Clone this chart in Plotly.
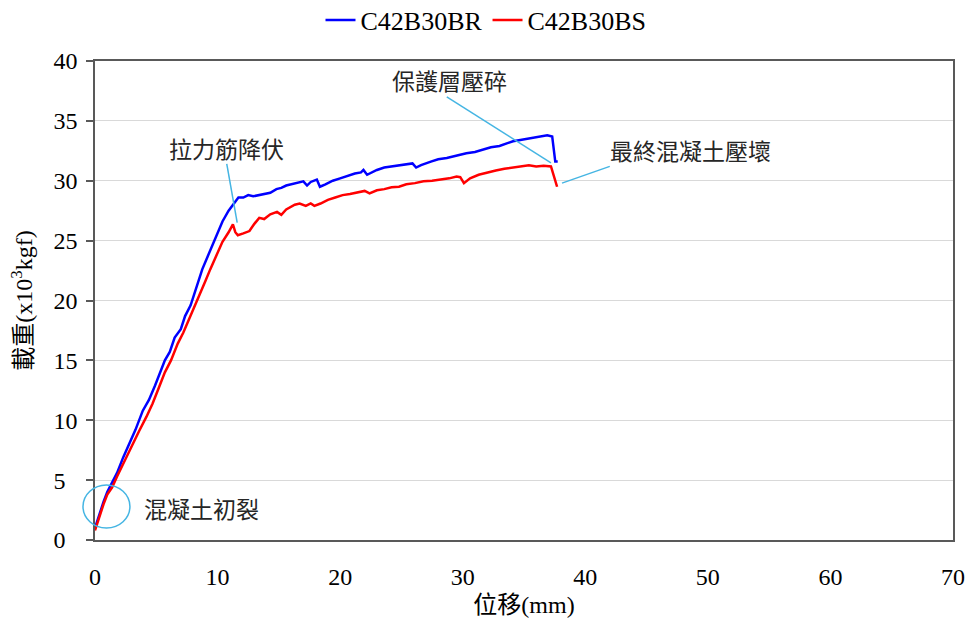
import plotly.graph_objects as go

# Load–displacement curves of two beams
br_disp = [0, 0.3, 0.7, 1.0, 1.4, 1.8, 2.3, 2.85, 3.3, 3.9, 4.4, 4.9, 5.3, 5.7, 6.1, 6.5,
           7.0, 7.35, 7.8, 8.15, 8.5, 8.75, 9.2, 9.6, 9.95, 10.4, 10.9, 11.3, 11.7, 12.1,
           12.5, 12.9, 13.3, 13.8, 14.3, 14.8, 15.2, 15.6, 16.0, 16.5, 17.0, 17.3, 17.6,
           18.1, 18.35, 18.8, 19.4, 20.0, 20.6, 21.2, 21.7, 21.9, 22.2, 23.0, 23.6, 24.2,
           24.9, 25.5, 25.9, 26.2, 26.6, 27.4, 28.0, 28.7, 29.5, 30.3, 31.0, 31.6, 32.3,
           33.0, 33.6, 34.1, 34.7, 35.3, 35.9, 36.5, 36.9, 37.3, 37.45, 37.55, 37.75]
br_load = [1.0, 2.0, 3.2, 4.0, 4.8, 5.6, 6.9, 8.1, 9.2, 10.8, 11.7, 12.9, 14.0, 15.0, 15.7,
           16.9, 17.6, 18.7, 19.6, 20.7, 21.8, 22.6, 23.7, 24.7, 25.6, 26.6, 27.5, 28.1,
           28.6, 28.6, 28.8, 28.7, 28.8, 28.9, 29.0, 29.3, 29.4, 29.6, 29.7, 29.8, 29.95,
           29.6, 29.9, 30.1, 29.5, 29.7, 30.0, 30.2, 30.4, 30.6, 30.7, 30.9, 30.5, 30.9,
           31.1, 31.2, 31.3, 31.4, 31.45, 31.1, 31.3, 31.6, 31.8, 31.9, 32.1, 32.3, 32.4,
           32.6, 32.8, 32.9, 33.1, 33.3, 33.4, 33.5, 33.6, 33.75, 33.8, 33.7, 32.6, 31.6,
           31.6]

bs_disp = [0, 0.3, 0.7, 1.0, 1.4, 1.8, 2.4, 3.1, 3.6, 4.2, 4.7, 5.2, 5.7, 6.2, 6.75, 7.2,
           7.7, 8.1, 8.5, 9.0, 9.4, 9.9, 10.4, 10.9, 11.25, 11.45, 11.65, 12.1, 12.6, 13.0,
           13.4, 13.8, 14.3, 14.85, 15.2, 15.6, 15.9, 16.3, 16.7, 17.2, 17.6, 17.9, 18.4,
           19.0, 19.6, 20.2, 20.8, 21.4, 22.0, 22.4, 23.0, 23.6, 24.2, 24.8, 25.4, 26.1,
           26.8, 27.5, 28.2, 28.9, 29.5, 29.8, 30.1, 30.6, 31.3, 32.0, 32.7, 33.4, 34.1,
           34.8, 35.4, 36.0, 36.6, 37.2, 37.45, 37.7]
bs_load = [0.8, 1.8, 3.0, 3.8, 4.4, 5.3, 6.6, 8.1, 9.1, 10.3, 11.4, 12.7, 14.0, 15.0, 16.4,
           17.3, 18.5, 19.3, 20.4, 21.6, 22.6, 23.8, 24.9, 25.7, 26.35, 25.7, 25.45, 25.6,
           25.8, 26.4, 26.9, 26.8, 27.2, 27.4, 27.15, 27.6, 27.8, 28.0, 28.1, 27.9, 28.1,
           27.9, 28.1, 28.4, 28.6, 28.8, 28.9, 29.0, 29.15, 28.95, 29.2, 29.3, 29.45, 29.5,
           29.7, 29.8, 29.95, 30.0, 30.1, 30.2, 30.35, 30.3, 29.8, 30.2, 30.5, 30.7, 30.85,
           31.0, 31.1, 31.2, 31.3, 31.2, 31.25, 31.2, 30.4, 29.5]

series_names = ["C42B30BR", "C42B30BS"]
series_colors = ["#0000ff", "#ff0000"]

x_ticks = [0, 10, 20, 30, 40, 50, 60, 70]
y_ticks = [0, 5, 10, 15, 20, 25, 30, 35, 40]
y_tick_labels = ["0\u2007", "5\u2007", "10", "15", "20", "25", "30", "35", "40"]
X_RANGE = [0, 70]
Y_RANGE = [0, 40]

# Event callouts: label, text position, leader line start/end (data units)
callout_text = ["拉力筋降伏", "保護層壓碎", "最終混凝土壓壞", "混凝土初裂"]
callout_pos = [(10.7, 32.75), (28.9, 38.4), (48.6, 32.6), (8.65, 2.65)]
leader_lines = [((10.75, 31.4), (11.6, 26.5)),
                ((28.7, 37.0), (37.2, 31.5)),
                ((42.0, 31.2), (38.1, 29.8))]
crack_ring = ((-0.98, 1.0), (2.85, 4.6))

SERIF = '"Liberation Serif", "Noto Sans CJK TC", serif'
CJK = '"Noto Sans CJK TC", sans-serif'
CALLOUT_COLOR = "#45b5e3"
AXIS_COLOR = "#595959"

fig = go.Figure()
for name, color, xs, ys in zip(series_names, series_colors,
                               [br_disp, bs_disp], [br_load, bs_load]):
    fig.add_trace(go.Scatter(x=xs, y=ys, mode="lines", name=name,
                             line=dict(color=color, width=2.5)))

def to_paper_x(v):
    return (v - X_RANGE[0]) / (X_RANGE[1] - X_RANGE[0])

def to_paper_y(v):
    return (v - Y_RANGE[0]) / (Y_RANGE[1] - Y_RANGE[0])

shapes = []
for (x0, y0), (x1, y1) in leader_lines:
    shapes.append(dict(type="line", xref="x", yref="y", x0=x0, y0=y0, x1=x1, y1=y1,
                       line=dict(color=CALLOUT_COLOR, width=1.5)))
(cx0, cy0), (cx1, cy1) = crack_ring
shapes.append(dict(type="circle", xref="paper", yref="paper",
                   x0=to_paper_x(cx0), y0=to_paper_y(cy0),
                   x1=to_paper_x(cx1), y1=to_paper_y(cy1),
                   line=dict(color=CALLOUT_COLOR, width=1.5)))

annotations = []
for text, (tx, ty) in zip(callout_text, callout_pos):
    annotations.append(dict(x=tx, y=ty, xref="x", yref="y", text=text, showarrow=False,
                            font=dict(family=CJK, size=23, color="#262626"),
                            xanchor="center", yanchor="middle"))

fig.update_layout(
    width=972, height=627,
    margin=dict(l=95, r=19, t=61, b=87, autoexpand=False),
    paper_bgcolor="white", plot_bgcolor="white",
    font=dict(family=SERIF, size=24, color="#000000"),
    shapes=shapes, annotations=annotations,
    showlegend=True,
    legend=dict(orientation="h", xref="container", yref="container",
                x=0.5, xanchor="center", y=0.968, yanchor="middle",
                font=dict(family="Times New Roman, Liberation Serif, serif", size=26,
                          color="#000000"),
                itemwidth=30, tracegroupgap=0, bgcolor="rgba(0,0,0,0)"),
    xaxis=dict(range=X_RANGE, tickvals=x_ticks, ticks="", showgrid=False,
               zeroline=False, showline=True, linecolor=AXIS_COLOR, linewidth=1.5,
               mirror=True, ticklabelstandoff=14, automargin=False,
               tickfont=dict(family=SERIF, size=24, color="#000000"),
               title=dict(text="位移(mm)", standoff=8,
                          font=dict(family=SERIF, size=24, color="#000000"))),
    yaxis=dict(range=Y_RANGE, tickvals=y_ticks, ticktext=y_tick_labels,
               ticks="outside", ticklen=7, tickcolor=AXIS_COLOR, tickwidth=1.5,
               showgrid=True, gridcolor="#d9d9d9", gridwidth=1.3,
               zeroline=False, showline=True, linecolor=AXIS_COLOR, linewidth=1.5,
               mirror=True, ticklabelstandoff=4, automargin=False,
               tickfont=dict(family=SERIF, size=24, color="#000000"),
               title=dict(text="載重(x10<sup>3</sup>kgf)", standoff=14,
                          font=dict(family=SERIF, size=24, color="#000000"))),
)

fig.write_html("out.html")
